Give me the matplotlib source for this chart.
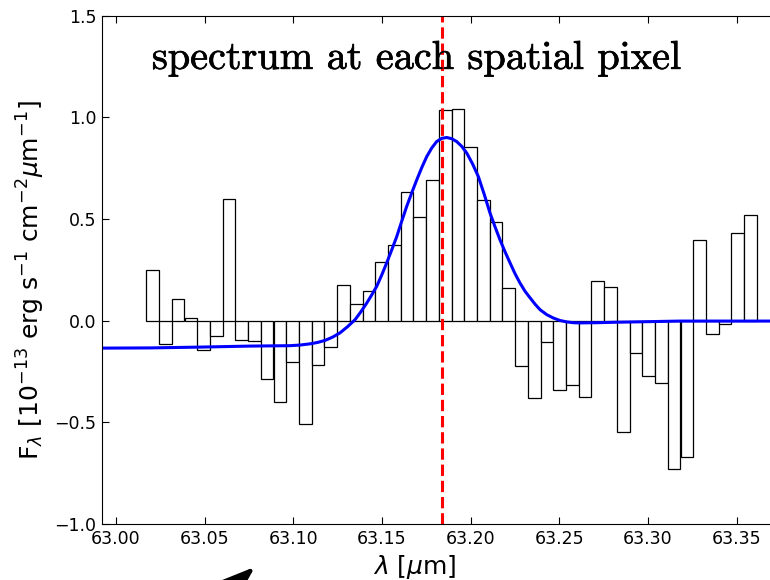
import numpy as np
import matplotlib
matplotlib.use('Agg')
import matplotlib.pyplot as plt
import matplotlib.patheffects as pe

# bin centres [um] and flux per bin [1e-13 erg/s/cm2/um]
wave = [63.0207, 63.0279, 63.0350, 63.0422, 63.0494, 63.0565, 63.0637, 63.0709,
        63.0781, 63.0852, 63.0924, 63.0996, 63.1067, 63.1139, 63.1211, 63.1283,
        63.1354, 63.1426, 63.1498, 63.1569, 63.1641, 63.1713, 63.1785, 63.1856,
        63.1928, 63.2000, 63.2071, 63.2143, 63.2215, 63.2287, 63.2358, 63.2430,
        63.2502, 63.2573, 63.2645, 63.2717, 63.2789, 63.2860, 63.2932, 63.3004,
        63.3075, 63.3147, 63.3219, 63.3291, 63.3362, 63.3434, 63.3506, 63.3577]
flux = [0.250, -0.113, 0.109, 0.013, -0.144, -0.077, 0.598, -0.095,
        -0.101, -0.286, -0.402, -0.203, -0.510, -0.217, -0.131, 0.176,
        0.082, 0.144, 0.291, 0.374, 0.631, 0.510, 0.691, 1.036,
        1.039, 0.855, 0.594, 0.485, 0.160, -0.221, -0.381, -0.103,
        -0.342, -0.315, -0.374, 0.193, 0.165, -0.549, -0.157, -0.272,
        -0.308, -0.728, -0.673, 0.399, -0.064, -0.015, 0.433, 0.520]
bin_w = 0.00717

# fitted model
fit_x = [62.9921, 63.0192, 63.0474, 63.0756, 63.0981, 63.1037, 63.1094, 63.1137,
         63.1179, 63.1221, 63.1263, 63.1305, 63.1348, 63.1381, 63.1414, 63.1442,
         63.1470, 63.1498, 63.1526, 63.1555, 63.1583, 63.1611, 63.1639, 63.1668,
         63.1696, 63.1724, 63.1752, 63.1780, 63.1808, 63.1837, 63.1865, 63.1893,
         63.1921, 63.1950, 63.1978, 63.2010, 63.2043, 63.2076, 63.2109, 63.2137,
         63.2165, 63.2194, 63.2222, 63.2250, 63.2278, 63.2306, 63.2335, 63.2363,
         63.2391, 63.2428, 63.2466, 63.2503, 63.2541, 63.2578, 63.2616, 63.2710,
         63.2804, 63.3180, 63.3744]
fit_y = [-0.135, -0.134, -0.130, -0.125, -0.123, -0.120, -0.114, -0.107,
         -0.097, -0.081, -0.060, -0.030, 0.005, 0.044, 0.087, 0.127,
         0.169, 0.224, 0.284, 0.349, 0.414, 0.489, 0.562, 0.630,
         0.693, 0.753, 0.807, 0.849, 0.881, 0.897, 0.901, 0.895,
         0.881, 0.857, 0.824, 0.772, 0.709, 0.622, 0.529, 0.462,
         0.398, 0.338, 0.284, 0.231, 0.185, 0.145, 0.112, 0.081,
         0.054, 0.030, 0.013, 0.001, -0.006, -0.010, -0.011, -0.010,
         -0.008, -0.002, -0.002]

line_wave = 63.1837  # [OI] 63 um

fig = plt.figure(figsize=(7.7, 5.8), dpi=100)
ax = fig.add_axes([0.1325, 0.0966, 0.88, 0.8763])

ax.bar(wave, flux, width=bin_w, facecolor='white', edgecolor='black', linewidth=0.9)
ax.plot(fit_x, fit_y, color='#0000ff', lw=2.2)
ax.axvline(line_wave, color='red', ls='--', lw=2.2)

ax.set_xlim(62.9921, 63.3742)
ax.set_ylim(-1.0, 1.5)
ax.set_xticks([63.00, 63.05, 63.10, 63.15, 63.20, 63.25, 63.30, 63.35])
ax.set_xticklabels(['63.00', '63.05', '63.10', '63.15', '63.20', '63.25', '63.30', '63.35'])
ax.set_yticks([-1.0, -0.5, 0.0, 0.5, 1.0, 1.5])
ax.set_yticklabels(['\u22121.0', '\u22120.5', '0.0', '0.5', '1.0', '1.5'])
ax.tick_params(direction='in', top=True, right=True, length=5, width=0.8,
               labelsize=12.5, pad=4)

ax.set_ylabel(r'F$_\lambda$ [10$^{-13}$ erg s$^{-1}$ cm$^{-2}$$\mu$m$^{-1}$]', fontsize=18)
ax.yaxis.set_label_coords(-0.081, 0.48)
ax.set_xlabel(r'$\lambda$ [$\mu$m]', fontsize=18)
ax.xaxis.set_label_coords(0.462, -0.058)

ax.text(0.464, 0.915, 'spectrum at each spatial pixel', transform=ax.transAxes,
        fontname='cmr10', fontsize=29, ha='center', va='center',
        path_effects=[pe.withStroke(linewidth=0.5, foreground='black')])

# arrow entering from the panel below
ax.annotate('', xy=(257, 15), xytext=(195, -40), xycoords='figure pixels',
            textcoords='figure pixels', annotation_clip=False,
            arrowprops=dict(arrowstyle='-|>,head_length=1.4,head_width=0.5',
                            mutation_scale=20, lw=3, color='black'))

fig.savefig('out.png', dpi=100)
